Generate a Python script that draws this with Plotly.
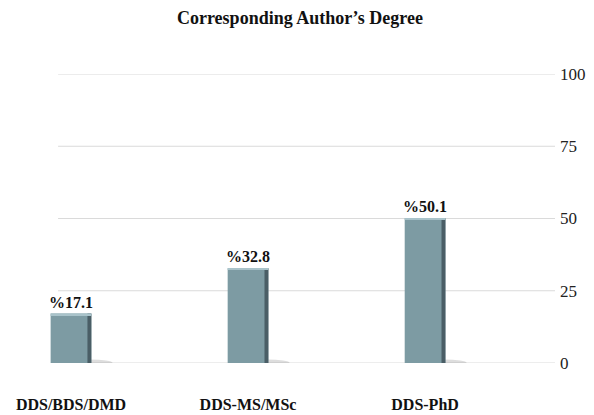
import plotly.graph_objects as go

# Share of corresponding authors by degree (%)
categories = ["DDS/BDS/DMD", "DDS-MS/MSc", "DDS-PhD"]
values = [17.1, 32.8, 50.1]
y_ticks = [0, 25, 50, 75, 100]

positions = list(range(len(categories)))
labels = ["<b>%" + f"{v:.1f}</b>" for v in values]

BAR_W = 0.23
SIDE_W = 0.022
CAP_H = 0.6
FONT = "Liberation Serif, Times New Roman, serif"

fig = go.Figure()

# main bar face
fig.add_trace(go.Bar(
    x=positions, y=values, width=BAR_W,
    marker=dict(color="#7d9ba3", line=dict(width=0)),
    text=labels, textposition="outside", cliponaxis=False, constraintext="none",
    textfont=dict(family=FONT, size=16, color="#111111"),
    hoverinfo="skip", showlegend=False,
))
# darker right-hand side for a bevelled look
fig.add_trace(go.Bar(
    x=positions, y=values, width=SIDE_W, offset=BAR_W / 2 - SIDE_W,
    marker=dict(color="#4a5e66", line=dict(width=0)),
    hoverinfo="skip", showlegend=False,
))
# light top edge
fig.add_trace(go.Bar(
    x=positions, y=[CAP_H] * len(values), base=[v - CAP_H for v in values],
    width=BAR_W, marker=dict(color="#a9c3ca", line=dict(width=0)),
    hoverinfo="skip", showlegend=False,
))

shapes = []
# horizontal gridlines
for t in y_ticks:
    shapes.append(dict(type="line", xref="x", yref="y", x0=-0.073, x1=2.734,
                       y0=t, y1=t, line=dict(color="#dadada", width=1), layer="below"))
# soft floor shadows to the right of each bar
for p in positions:
    shapes.append(dict(type="circle", xref="x", yref="y",
                       x0=p - 0.02, x1=p + BAR_W / 2 + 0.12, y0=-1.2, y1=1.2,
                       fillcolor="rgba(120,120,120,0.25)", line=dict(width=0), layer="below"))

fig.update_layout(
    width=594, height=415,
    margin=dict(l=0, r=39, t=74, b=52),
    paper_bgcolor="white", plot_bgcolor="white",
    barmode="overlay",
    showlegend=False,
    title=dict(text="<b>Corresponding Author’s Degree</b>", x=0.505, xanchor="center",
               y=0.957, yanchor="middle",
               font=dict(family=FONT, size=18, color="#111111")),
    xaxis=dict(range=[-0.401, 2.734], tickvals=positions, ticktext=["<b>" + c + "</b>" for c in categories],
               tickfont=dict(family=FONT, size=16, color="#111111"),
               showgrid=False, zeroline=False, showline=False, ticks="",
               ticklabelstandoff=30),
    yaxis=dict(range=[0, 100], tickvals=y_ticks, side="right",
               tickfont=dict(family=FONT, size=17, color="#222222"),
               showgrid=False, zeroline=False, showline=False, ticks="",
               ticklabelstandoff=4),
    shapes=shapes,
)

fig.write_html("out.html")
